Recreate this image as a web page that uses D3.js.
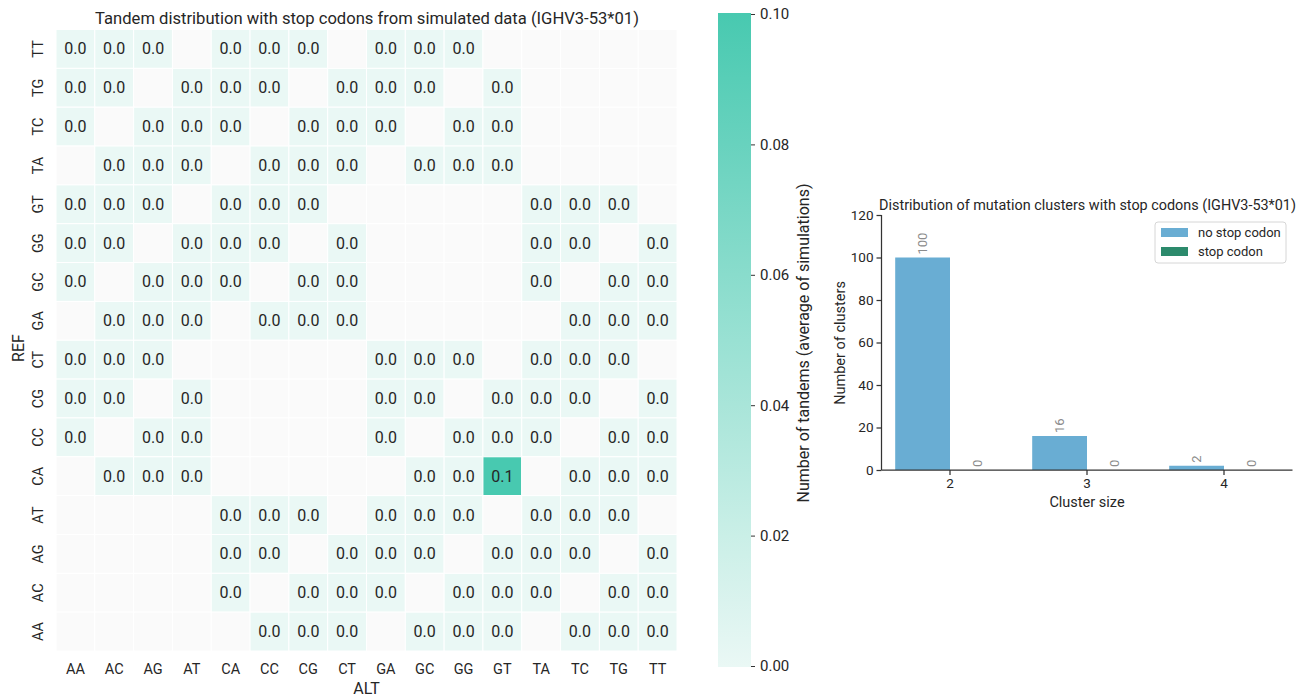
<!DOCTYPE html>
<html><head><meta charset="utf-8">
<script src="https://cdn.jsdelivr.net/npm/d3@7"></script>
<style>
html,body{margin:0;padding:0;background:#fff;}
svg{display:block;font-family:Roboto, "Noto Sans", sans-serif;}
</style></head>
<body>
<svg id="chart" width="1298" height="697"></svg>
<script>
// ---------- Heatmap data ----------
const altLabels = ["AA","AC","AG","AT","CA","CC","CG","CT","GA","GC","GG","GT","TA","TC","TG","TT"];
const refLabels = ["TT","TG","TC","TA","GT","GG","GC","GA","CT","CG","CC","CA","AT","AG","AC","AA"]; // top to bottom
const N = null;
const tandemValues = [
  [0,0,0,N,0,0,0,N,0,0,0,N,N,N,N,N],   // TT
  [0,0,N,0,0,0,N,0,0,0,N,0,N,N,N,N],   // TG
  [0,N,0,0,0,N,0,0,0,N,0,0,N,N,N,N],   // TC
  [N,0,0,0,N,0,0,0,N,0,0,0,N,N,N,N],   // TA
  [0,0,0,N,0,0,0,N,N,N,N,N,0,0,0,N],   // GT
  [0,0,N,0,0,0,N,0,N,N,N,N,0,0,N,0],   // GG
  [0,N,0,0,0,N,0,0,N,N,N,N,0,N,0,0],   // GC
  [N,0,0,0,N,0,0,0,N,N,N,N,N,0,0,0],   // GA
  [0,0,0,N,N,N,N,N,0,0,0,N,0,0,0,N],   // CT
  [0,0,N,0,N,N,N,N,0,0,N,0,0,0,N,0],   // CG
  [0,N,0,0,N,N,N,N,0,N,0,0,0,N,0,0],   // CC
  [N,0,0,0,N,N,N,N,N,0,0,0.1,N,0,0,0], // CA
  [N,N,N,N,0,0,0,N,0,0,0,N,0,0,0,N],   // AT
  [N,N,N,N,0,0,N,0,0,0,N,0,0,0,N,0],   // AG
  [N,N,N,N,0,N,0,0,0,N,0,0,0,N,0,0],   // AC
  [N,N,N,N,N,0,0,0,N,0,0,0,N,0,0,0]    // AA
];
const colorbarTicks = [0.00,0.02,0.04,0.06,0.08,0.10];

// ---------- Bar chart data ----------
const clusterSizes = [2,3,4];
const seriesNames = ["no stop codon","stop codon"];
const noStopCounts = [100,16,2];
const stopCounts = [0,0,0];
const barYTicks = [0,20,40,60,80,100,120];

const svg = d3.select("#chart");
const txt = "#262626";

// ================= HEATMAP =================
const hm = {left:56, right:677, top:29.5, bottom:651};
const x = d3.scaleBand().domain(altLabels).range([hm.left, hm.right]);
const y = d3.scaleBand().domain(refLabels).range([hm.top, hm.bottom]);
const color = d3.scaleLinear().domain([0,0.1]).range(["#eaf8f5","#48c9b0"]).interpolate(d3.interpolateRgb).clamp(true);

const cells = [];
refLabels.forEach((r,i)=>altLabels.forEach((a,j)=>cells.push({r,a,v:tandemValues[i][j]})));

const g = svg.append("g");
g.selectAll("rect.cell").data(cells).join("rect")
  .attr("class","cell")
  .attr("x",d=>x(d.a)).attr("y",d=>y(d.r))
  .attr("width",x.bandwidth()).attr("height",y.bandwidth())
  .attr("fill",d=>d.v===null?"#fafafa":color(d.v))
  .attr("stroke","#fff").attr("stroke-width",1);

g.selectAll("text.ann").data(cells.filter(d=>d.v!==null)).join("text")
  .attr("class","ann")
  .attr("x",d=>x(d.a)+x.bandwidth()/2).attr("y",d=>y(d.r)+y.bandwidth()/2)
  .attr("text-anchor","middle").attr("dominant-baseline","central")
  .attr("font-size",16).attr("fill",txt)
  .text(d=>d3.format(".1f")(d.v));

// x tick labels
g.selectAll("text.xt").data(altLabels).join("text")
  .attr("x",d=>x(d)+x.bandwidth()/2).attr("y",hm.bottom+23)
  .attr("text-anchor","middle").attr("font-size",14.5).attr("fill",txt).text(d=>d);
// y tick labels
g.selectAll("text.yt").data(refLabels).join("text")
  .attr("transform",d=>`translate(${hm.left-13},${y(d)+y.bandwidth()/2}) rotate(-90)`)
  .attr("text-anchor","middle").attr("font-size",14.5).attr("fill",txt).text(d=>d);

g.append("text").attr("x",(hm.left+hm.right)/2).attr("y",694)
  .attr("text-anchor","middle").attr("font-size",16).attr("fill",txt).text("ALT");
g.append("text").attr("transform",`translate(24,348) rotate(-90)`)
  .attr("text-anchor","middle").attr("font-size",16).attr("fill",txt).text("REF");
g.append("text").attr("x",367).attr("y",24)
  .attr("text-anchor","middle").attr("font-size",16.6).attr("fill",txt)
  .text("Tandem distribution with stop codons from simulated data (IGHV3-53*01)");

// colorbar
const cb = {x:718, w:33, top:13, bottom:667};
const defs = svg.append("defs");
const grad = defs.append("linearGradient").attr("id","cbgrad").attr("x1",0).attr("y1",1).attr("x2",0).attr("y2",0);
d3.range(0,1.0001,0.1).forEach(t=>grad.append("stop").attr("offset",t).attr("stop-color",color(t*0.1)));
svg.append("rect").attr("x",cb.x).attr("y",cb.top).attr("width",cb.w).attr("height",cb.bottom-cb.top).attr("fill","url(#cbgrad)");
const cbScale = d3.scaleLinear().domain([0,0.1]).range([cb.bottom-1,cb.top+1]);
const cbAxis = d3.axisRight(cbScale).tickValues(colorbarTicks).tickFormat(d3.format(".2f")).tickSize(4).tickPadding(5);
const cbg = svg.append("g").attr("transform",`translate(${cb.x+cb.w},0)`).call(cbAxis);
cbg.select(".domain").remove();
cbg.selectAll("line").attr("stroke","#333");
cbg.selectAll("text").attr("font-size",15).attr("fill",txt).attr("font-family","Roboto, sans-serif");
svg.append("text").attr("transform",`translate(809,343) rotate(-90)`)
  .attr("text-anchor","middle").attr("font-size",16).attr("fill",txt)
  .text("Number of tandems (average of simulations)");

// ================= BAR CHART =================
const bc = {left:881.5, right:1292.5, top:215, bottom:470};
const bx = d3.scaleBand().domain(clusterSizes).range([bc.left, bc.right]);
const bxs = d3.scaleBand().domain(seriesNames).range([0, bx.step()*0.8]);
const by = d3.scaleLinear().domain([0,120]).range([bc.bottom, bc.top]);
const barColors = {"no stop codon":"#69add3","stop codon":"#2c8a6c"};
const barData = [];
clusterSizes.forEach((c,i)=>{
  barData.push({c,s:"no stop codon",v:noStopCounts[i]});
  barData.push({c,s:"stop codon",v:stopCounts[i]});
});
const bg = svg.append("g");
const groupOffset = bx.step()*0.1;
bg.selectAll("rect.bar").data(barData).join("rect")
  .attr("x",d=>bx(d.c)+groupOffset+bxs(d.s)).attr("y",d=>by(d.v))
  .attr("width",bxs.bandwidth()).attr("height",d=>by(0)-by(d.v))
  .attr("fill",d=>barColors[d.s]);
bg.selectAll("text.bl").data(barData).join("text")
  .attr("transform",d=>`translate(${bx(d.c)+groupOffset+bxs(d.s)+bxs.bandwidth()/2+4.5},${by(d.v)-3}) rotate(-90)`)
  .attr("text-anchor","start").attr("font-size",13).attr("fill","#8c8c8c").text(d=>d.v);

const xa = bg.append("g").attr("transform",`translate(0,${bc.bottom})`)
  .call(d3.axisBottom(bx).tickSize(5).tickPadding(3));
const ya = bg.append("g").attr("transform",`translate(${bc.left},0)`)
  .call(d3.axisLeft(by).tickValues(barYTicks).tickSize(5).tickPadding(3));
[xa,ya].forEach(a=>{
  a.select(".domain").attr("stroke","#333").attr("stroke-width",1.25);
  a.selectAll("line").attr("stroke","#333").attr("stroke-width",1.25);
  a.selectAll("text").attr("font-size",13.5).attr("fill",txt).attr("font-family","Roboto, sans-serif");
});
xa.select(".domain").attr("d",`M${bc.left},0H${bc.right}`);
ya.select(".domain").attr("d",`M0,${bc.bottom}V${bc.top}`);

bg.append("text").attr("x",(bc.left+bc.right)/2).attr("y",507)
  .attr("text-anchor","middle").attr("font-size",14.5).attr("fill",txt).text("Cluster size");
bg.append("text").attr("transform",`translate(845,343) rotate(-90)`)
  .attr("text-anchor","middle").attr("font-size",14.5).attr("fill",txt).text("Number of clusters");
bg.append("text").attr("x",1087.5).attr("y",210)
  .attr("text-anchor","middle").attr("font-size",14.4).attr("fill",txt)
  .text("Distribution of mutation clusters with stop codons (IGHV3-53*01)");

// legend
const lg = bg.append("g").attr("transform","translate(1155,222)");
lg.append("rect").attr("width",131).attr("height",41).attr("rx",3)
  .attr("fill","#fff").attr("stroke","#d6d6d6").attr("stroke-width",1);
seriesNames.forEach((s,i)=>{
  lg.append("rect").attr("x",6).attr("y",6+i*19).attr("width",27).attr("height",9).attr("fill",barColors[s]);
  lg.append("text").attr("x",43).attr("y",15+i*19).attr("font-size",13).attr("fill",txt).text(s);
});
</script>
</body></html>
